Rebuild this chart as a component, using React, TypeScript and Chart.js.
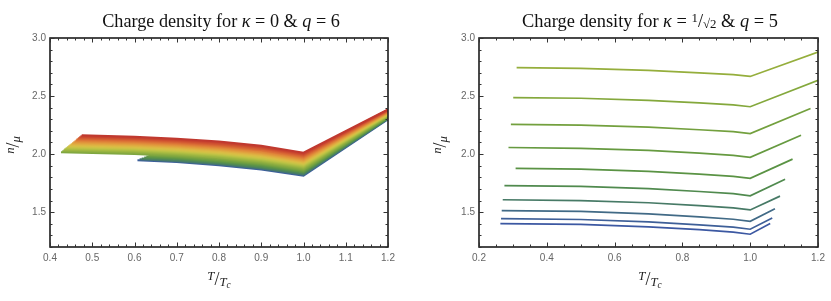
import React, { useEffect, useRef } from 'react';
import { Chart, registerables } from 'chart.js';
Chart.register(...registerables);

// ---------- shared axis ticks ----------
const yTicks = [1.5, 2.0, 2.5, 3.0];
const leftXTicks = [0.4, 0.5, 0.6, 0.7, 0.8, 0.9, 1.0, 1.1, 1.2];
const rightXTicks = [0.2, 0.4, 0.6, 0.8, 1.0, 1.2];

// ---------- left chart (kappa = 0, q = 6) ----------
const leftXs = [0.6, 0.7, 0.8, 0.9, 1.0, 1.2];
const leftStartX = [0.475, 0.472, 0.469, 0.466, 0.463, 0.461, 0.458, 0.455, 0.452, 0.449, 0.446, 0.443, 0.440, 0.437, 0.434, 0.432, 0.429, 0.426, 0.633, 0.628, 0.623, 0.617, 0.612, 0.607];
const leftStartY = [2.163, 2.154, 2.146, 2.137, 2.128, 2.120, 2.111, 2.102, 2.093, 2.085, 2.076, 2.067, 2.059, 2.050, 2.041, 2.033, 2.024, 2.015, 1.987, 1.980, 1.971, 1.963, 1.955, 1.947];
const leftLines = [
  [2.150, 2.133, 2.108, 2.072, 2.012, 2.385],
  [2.141, 2.124, 2.099, 2.063, 2.003, 2.381],
  [2.133, 2.115, 2.090, 2.054, 1.995, 2.378],
  [2.124, 2.107, 2.081, 2.045, 1.986, 2.374],
  [2.115, 2.098, 2.072, 2.036, 1.978, 2.370],
  [2.107, 2.089, 2.064, 2.028, 1.969, 2.367],
  [2.098, 2.080, 2.055, 2.019, 1.961, 2.363],
  [2.089, 2.071, 2.046, 2.010, 1.952, 2.359],
  [2.080, 2.063, 2.037, 2.001, 1.943, 2.355],
  [2.072, 2.054, 2.028, 1.992, 1.935, 2.352],
  [2.063, 2.045, 2.019, 1.983, 1.926, 2.348],
  [2.054, 2.036, 2.010, 1.974, 1.918, 2.344],
  [2.046, 2.027, 2.001, 1.965, 1.909, 2.341],
  [2.037, 2.019, 1.992, 1.956, 1.901, 2.337],
  [2.028, 2.010, 1.983, 1.947, 1.892, 2.333],
  [2.020, 2.001, 1.974, 1.938, 1.883, 2.330],
  [2.011, 1.992, 1.966, 1.930, 1.875, 2.326],
  [2.002, 1.983, 1.957, 1.921, 1.866, 2.322],
  [1.993, 1.975, 1.948, 1.912, 1.858, 2.318],
  [1.985, 1.966, 1.939, 1.903, 1.849, 2.315],
  [1.976, 1.957, 1.930, 1.894, 1.841, 2.311],
  [1.967, 1.948, 1.921, 1.885, 1.832, 2.307],
  [1.959, 1.939, 1.912, 1.876, 1.823, 2.304],
  [1.950, 1.931, 1.903, 1.867, 1.815, 2.300],
];
const leftColors = [
  '#c0392f', '#c8442f', '#cf5131', '#d55f33', '#da6e36', '#de7d38', '#e08c3b', '#e19a3d',
  '#e0a740', '#deb343', '#dabd45', '#d1c246', '#c4c346', '#b5c044', '#a6ba42', '#98b341',
  '#8aac40', '#7ea640', '#6f9f42', '#619746', '#558e4f', '#4b825f', '#447474', '#3d5f9c',
];

// ---------- right chart (kappa = 1/sqrt2, q = 5) ----------
const rightXs = [0.5, 0.7, 0.85, 0.95, 1.0];
const rightStartX = [0.311, 0.301, 0.294, 0.287, 0.308, 0.275, 0.270, 0.267, 0.265, 0.263];
const rightStartY = [2.744, 2.487, 2.256, 2.057, 1.878, 1.729, 1.607, 1.513, 1.444, 1.402];
const rightLines = [
  [2.738, 2.722, 2.700, 2.684, 2.669],
  [2.481, 2.463, 2.441, 2.424, 2.408],
  [2.250, 2.232, 2.210, 2.193, 2.177],
  [2.050, 2.032, 2.008, 1.989, 1.972],
  [1.871, 1.852, 1.828, 1.809, 1.792],
  [1.722, 1.703, 1.678, 1.659, 1.641],
  [1.600, 1.581, 1.556, 1.537, 1.519],
  [1.506, 1.485, 1.460, 1.439, 1.421],
  [1.437, 1.417, 1.391, 1.371, 1.353],
  [1.395, 1.374, 1.349, 1.328, 1.310],
];
const rightEndX = [1.2, 1.2, 1.178, 1.150, 1.125, 1.103, 1.088, 1.073, 1.065, 1.059];
const rightEndY = [2.878, 2.635, 2.393, 2.162, 1.957, 1.784, 1.638, 1.530, 1.450, 1.402];
const rightColors = ['#95ae3c', '#84a83c', '#73a03e', '#669a40', '#5a9344', '#508a4e', '#477a66', '#416a86', '#3e5f98', '#3c58a2'];

type Piece = { t: string; italic?: boolean; scale?: number; dy?: number };

const SERIF = '"Liberation Serif", "DejaVu Serif", serif';

function pieceFont(p: Piece, size: number) {
  return `${p.italic ? 'italic ' : ''}${(size * (p.scale ?? 1)).toFixed(2)}px ${SERIF}`;
}

function measurePieces(ctx: CanvasRenderingContext2D, pieces: Piece[], size: number) {
  let w = 0;
  for (const p of pieces) {
    ctx.font = pieceFont(p, size);
    w += ctx.measureText(p.t).width;
  }
  return w;
}

function drawPieces(ctx: CanvasRenderingContext2D, pieces: Piece[], size: number, cx: number, cy: number, baseline: CanvasTextBaseline) {
  const w = measurePieces(ctx, pieces, size);
  let x = cx - w / 2;
  ctx.textAlign = 'left';
  ctx.textBaseline = baseline;
  for (const p of pieces) {
    ctx.font = pieceFont(p, size);
    ctx.fillText(p.t, x, cy + (p.dy ?? 0) * size);
    x += ctx.measureText(p.t).width;
  }
}

type Decor = {
  title: Piece[];
  titleWidth: number;
  titleCx: number;
  titleBaseline: number;
  xTitleCx: number;
  xTitleCy: number;
  yTitleCx: number;
  yTitleCy: number;
  xMinor: number;
  yMinor: number;
  xMajor: number[];
};

const yTitlePieces: Piece[] = [
  { t: 'n', italic: true, scale: 0.75, dy: -0.22 },
  { t: '/', scale: 1.05, dy: 0 },
  { t: 'μ', italic: true, scale: 0.75, dy: 0.18 },
];
const xTitlePieces: Piece[] = [
  { t: 'T', italic: true, scale: 0.75, dy: -0.22 },
  { t: '/', scale: 1.05, dy: 0 },
  { t: 'T', italic: true, scale: 0.75, dy: 0.18 },
  { t: 'c', italic: true, scale: 0.55, dy: 0.32 },
];

function makeDecorPlugin(d: Decor) {
  return {
    id: 'decor',
    afterDraw(chart: any) {
      const ctx: CanvasRenderingContext2D = chart.ctx;
      const { left, right, top, bottom } = chart.chartArea;
      const xs = chart.scales.x;
      const ys = chart.scales.y;
      ctx.save();
      // frame
      ctx.strokeStyle = '#1c1c1c';
      ctx.lineWidth = 1.6;
      ctx.strokeRect(left, top, right - left, bottom - top);
      // ticks
      ctx.lineWidth = 1;
      ctx.strokeStyle = '#333';
      ctx.beginPath();
      const eps = 1e-9;
      for (let v = xs.min; v <= xs.max + eps; v += d.xMinor) {
        const isMajor = d.xMajor.some((m) => Math.abs(m - v) < 1e-6);
        const len = isMajor ? 4.5 : 2.5;
        const px = Math.round(xs.getPixelForValue(v)) + 0.5;
        ctx.moveTo(px, bottom); ctx.lineTo(px, bottom - len);
        ctx.moveTo(px, top); ctx.lineTo(px, top + len);
      }
      for (let v = ys.min; v <= ys.max + eps; v += d.yMinor) {
        const isMajor = yTicks.some((m) => Math.abs(m - v) < 1e-6);
        const len = isMajor ? 4.5 : 2.5;
        const py = Math.round(ys.getPixelForValue(v)) + 0.5;
        ctx.moveTo(left, py); ctx.lineTo(left + len, py);
        ctx.moveTo(right, py); ctx.lineTo(right - len, py);
      }
      ctx.stroke();

      // title
      ctx.fillStyle = '#111';
      const base = 16;
      const w = measurePieces(ctx, d.title, base);
      const size = base * d.titleWidth / w;
      drawPieces(ctx, d.title, size, d.titleCx, d.titleBaseline, 'alphabetic');

      // x title
      ctx.fillStyle = '#222';
      drawPieces(ctx, xTitlePieces, 17, d.xTitleCx, d.xTitleCy, 'middle');

      // y title
      ctx.save();
      ctx.translate(d.yTitleCx, d.yTitleCy);
      ctx.rotate(-Math.PI / 2);
      drawPieces(ctx, yTitlePieces, 17, 0, 0, 'middle');
      ctx.restore();

      ctx.restore();
    },
  };
}

function baseOptions(xMin: number, xMax: number, xTickList: number[], padRight: number, yWidth: number) {
  return {
    responsive: false,
    animation: false as const,
    devicePixelRatio: 1,
    layout: { padding: { left: 0, right: padRight, top: 38, bottom: 0 } },
    plugins: { legend: { display: false }, tooltip: { enabled: false }, title: { display: false } },
    elements: { point: { radius: 0 }, line: { tension: 0 } },
    scales: {
      x: {
        type: 'linear' as const,
        min: xMin,
        max: xMax,
        afterBuildTicks: (s: any) => { s.ticks = xTickList.map((v) => ({ value: v })); },
        afterFit: (s: any) => { s.height = 54; },
        grid: { display: false, drawTicks: false },
        border: { display: false },
        ticks: {
          padding: 5,
          autoSkip: false,
          maxRotation: 0,
          color: '#666',
          font: { family: '"Liberation Sans", Arial, sans-serif', size: 10 },
          callback: (v: any) => Number(v).toFixed(1),
        },
      },
      y: {
        type: 'linear' as const,
        min: 1.2,
        max: 3.0,
        afterBuildTicks: (s: any) => { s.ticks = yTicks.map((v) => ({ value: v })); },
        afterFit: (s: any) => { s.width = yWidth; },
        grid: { display: false, drawTicks: false },
        border: { display: false },
        ticks: {
          padding: 4,
          color: '#666',
          font: { family: '"Liberation Sans", Arial, sans-serif', size: 10 },
          callback: (v: any) => Number(v).toFixed(1),
        },
      },
    },
  };
}

function leftDatasets() {
  return leftLines.map((ys, i) => {
    const pts = [{ x: leftStartX[i], y: leftStartY[i] }];
    leftXs.forEach((x, j) => { if (x > leftStartX[i]) pts.push({ x, y: ys[j] }); });
    return {
      data: pts,
      showLine: true,
      borderColor: leftColors[i],
      borderWidth: 2,
      pointRadius: 0,
      fill: false,
    };
  });
}

function rightDatasets() {
  return rightLines.map((ys, i) => {
    const pts = [{ x: rightStartX[i], y: rightStartY[i] }];
    rightXs.forEach((x, j) => { if (x > rightStartX[i]) pts.push({ x, y: ys[j] }); });
    pts.push({ x: rightEndX[i], y: rightEndY[i] });
    return {
      data: pts,
      showLine: true,
      borderColor: rightColors[i],
      borderWidth: 1.7,
      pointRadius: 0,
      fill: false,
    };
  });
}

const leftTitle: Piece[] = [
  { t: 'Charge density for ' },
  { t: 'κ', italic: true },
  { t: ' = 0 & ' },
  { t: 'q', italic: true },
  { t: ' = 6' },
];
const rightTitle: Piece[] = [
  { t: 'Charge density for ' },
  { t: 'κ', italic: true },
  { t: ' = ' },
  { t: '1', scale: 0.7, dy: -0.28 },
  { t: '/', scale: 1.0 },
  { t: '√2', scale: 0.7, dy: 0.05 },
  { t: ' & ' },
  { t: 'q', italic: true },
  { t: ' = 5' },
];

export default function App() {
  const leftRef = useRef<HTMLCanvasElement>(null);
  const rightRef = useRef<HTMLCanvasElement>(null);

  useEffect(() => {
    const c1 = new Chart(leftRef.current!, {
      type: 'scatter',
      data: { datasets: leftDatasets() as any },
      options: baseOptions(0.4, 1.2, leftXTicks, 27, 50) as any,
      plugins: [makeDecorPlugin({
        title: leftTitle, titleWidth: 238, titleCx: 221, titleBaseline: 27,
        xTitleCx: 219, xTitleCy: 280, yTitleCx: 14, yTitleCy: 145,
        xMinor: 0.02, yMinor: 0.1, xMajor: leftXTicks,
      })],
    });
    const c2 = new Chart(rightRef.current!, {
      type: 'scatter',
      data: { datasets: rightDatasets() as any },
      options: baseOptions(0.2, 1.2, rightXTicks, 13, 64) as any,
      plugins: [makeDecorPlugin({
        title: rightTitle, titleWidth: 256, titleCx: 235, titleBaseline: 27,
        xTitleCx: 235, xTitleCy: 280, yTitleCx: 26, yTitleCy: 145,
        xMinor: 0.05, yMinor: 0.1, xMajor: rightXTicks,
      })],
    });
    return () => { c1.destroy(); c2.destroy(); };
  }, []);

  return (
    <div style={{ position: 'absolute', left: 0, top: 0, width: 831, height: 301, background: '#fff' }}>
      <canvas ref={leftRef} width={415} height={301} style={{ position: 'absolute', left: 0, top: 0, width: 415, height: 301 }} />
      <canvas ref={rightRef} width={416} height={301} style={{ position: 'absolute', left: 415, top: 0, width: 416, height: 301 }} />
    </div>
  );
}
